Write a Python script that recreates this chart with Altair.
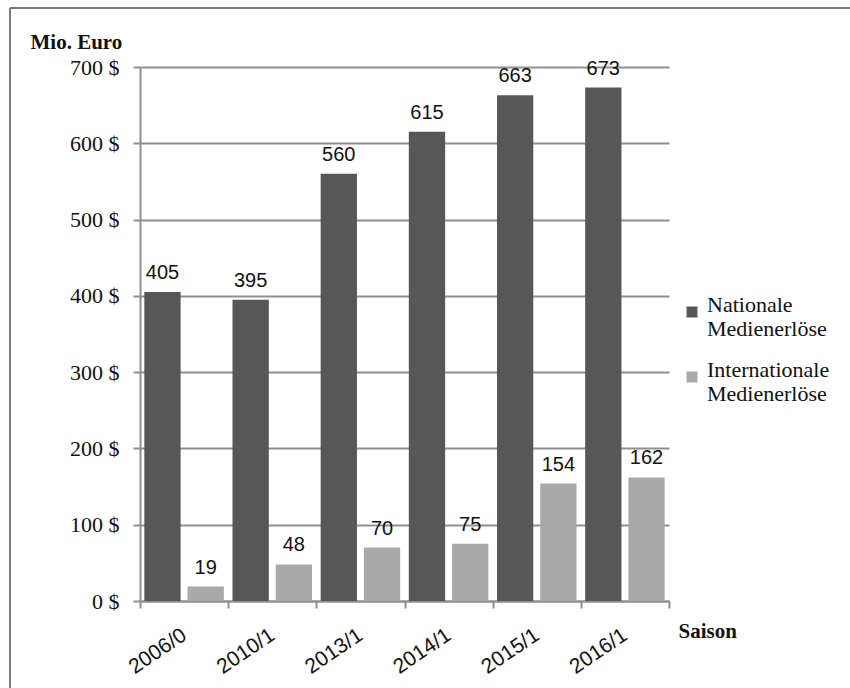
import altair as alt
import pandas as pd

# Media revenues per season (million euro)
seasons = ["2006/0", "2010/1", "2013/1", "2014/1", "2015/1", "2016/1"]
national = [405, 395, 560, 615, 663, 673]
international = [19, 48, 70, 75, 154, 162]
series = ["Nationale Medienerlöse", "Internationale Medienerlöse"]
y_ticks = [0, 100, 200, 300, 400, 500, 600, 700]

rows = []
for s, n, i in zip(seasons, national, international):
    rows.append({"Saison": s, "Serie": series[0], "Wert": n})
    rows.append({"Saison": s, "Serie": series[1], "Wert": i})
df = pd.DataFrame(rows)

SERIF = "Liberation Serif"
SANS = "Liberation Sans"
GRID = "#8f8f8f"
INK = "#111111"

x_enc = alt.X(
    "Saison:N",
    sort=seasons,
    scale=alt.Scale(paddingInner=0, paddingOuter=0),
    axis=alt.Axis(
        title="Saison",
        titleFont=SERIF,
        titleFontSize=21,
        titleFontWeight="bold",
        titleColor=INK,
        titleAlign="left",
        titleBaseline="alphabetic",
        titleX=538,
        titleY=36,
        labelFont=SANS,
        labelFontSize=21,
        labelColor=INK,
        labelAngle=-34,
        labelAlign="right",
        labelBaseline="middle",
        labelPadding=25,
        tickBand="extent",
        tickSize=7,
        tickColor=GRID,
        tickWidth=2,
        domainColor=GRID,
        domainWidth=2,
        grid=False,
    ),
)
xoff_enc = alt.XOffset(
    "Serie:N",
    sort=series,
    scale=alt.Scale(paddingInner=0.16, paddingOuter=0.1),
)
y_enc = alt.Y(
    "Wert:Q",
    scale=alt.Scale(domain=[0, 700], nice=False),
    axis=alt.Axis(
        values=y_ticks,
        labelExpr="datum.value + ' $'",
        title="Mio. Euro",
        titleFont=SERIF,
        titleFontSize=21,
        titleFontWeight="bold",
        titleColor=INK,
        titleAngle=0,
        titleAlign="left",
        titleBaseline="alphabetic",
        titleX=-110,
        titleY=-19,
        labelFont=SERIF,
        labelFontSize=22,
        labelColor=INK,
        labelPadding=14,
        tickSize=7,
        tickColor=GRID,
        tickWidth=2,
        domainColor=GRID,
        domainWidth=2,
        gridColor=GRID,
        gridWidth=2,
    ),
)

bars = alt.Chart(df).mark_bar(strokeWidth=0).encode(
    x=x_enc,
    xOffset=xoff_enc,
    y=y_enc,
    color=alt.Color(
        "Serie:N",
        sort=series,
        scale=alt.Scale(domain=series, range=["#575757", "#a9a9a9"]),
        legend=alt.Legend(
            title=None,
            orient="none",
            legendX=541,
            legendY=234,
            labelExpr="split(datum.label, ' ')",
            labelFont=SERIF,
            labelFontSize=22,
            labelColor=INK,
            labelLimit=300,
            labelBaseline="alphabetic",
            labelOffset=4,
            symbolType="square",
            symbolSize=121,
            symbolStrokeWidth=0,
            rowPadding=19,
        ),
    ),
)

labels = alt.Chart(df).mark_text(
    font=SANS, fontSize=20, color=INK, baseline="alphabetic", dy=-13
).encode(
    x=alt.X("Saison:N", sort=seasons),
    xOffset=alt.XOffset("Serie:N", sort=series),
    y="Wert:Q",
    text="Wert:Q",
)

# Outer frame (top and left edges)
frame_top = alt.Chart(df).mark_rule(color="#7a7a7a", strokeWidth=2).encode(
    x=alt.value(-130), x2=alt.value(720), y=alt.value(-59)
)
frame_left = alt.Chart(df).mark_rule(color="#7a7a7a", strokeWidth=2).encode(
    x=alt.value(-130), y=alt.value(-59), y2=alt.value(630)
)

chart = (
    alt.layer(bars, labels, frame_top, frame_left)
    .properties(
        width=529,
        height=534,
        autosize=alt.AutoSizeParams(type="none"),
        padding={"left": 140, "top": 67, "right": 181, "bottom": 87},
        background="#ffffff",
    )
    .configure_view(stroke=None)
)

chart.save("out.html", embed_options={"renderer": "svg", "actions": False})
